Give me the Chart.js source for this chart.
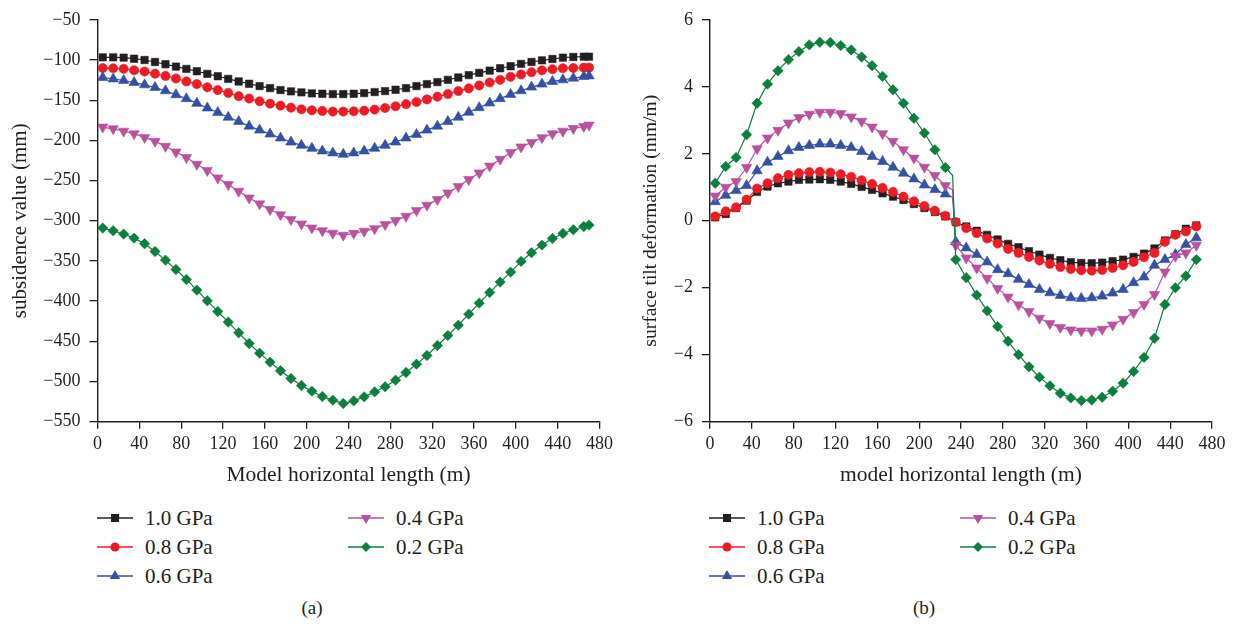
<!DOCTYPE html>
<html>
<head>
<meta charset="utf-8">
<script src="https://cdn.jsdelivr.net/npm/chart.js@4.4.1/dist/chart.umd.min.js"></script>
<style>
  body { margin: 0; background: #fff; width: 1237px; height: 628px; position: relative; overflow: hidden;
         font-family: "Liberation Serif", serif; color: #231f20; }
  canvas { position: absolute; top: 0; }
  #subsidence { left: 0; }
  #tilt { left: 618px; }
  .item { position: absolute; height: 24px; display: flex; align-items: center; white-space: nowrap; font-size: 21px; }
  .item svg { margin-right: 12px; }
  .caption { position: absolute; top: 597px; font-size: 19px; transform: translateX(-50%); }
</style>
</head>
<body>
<canvas id="subsidence" width="618" height="490"></canvas>
<canvas id="tilt" width="619" height="490"></canvas>
<div id="legendA"></div>
<div id="legendB"></div>
<div class="caption" style="left:312px">(a)</div>
<div class="caption" style="left:924px">(b)</div>
<script>
// positions along the model (m)
var xLeft = [5, 15, 25, 35, 45, 55, 65, 75, 85, 95, 105, 115, 125, 135, 145, 155, 165, 175, 185, 195, 205, 215, 225, 235,
             245, 255, 265, 275, 285, 295, 305, 315, 325, 335, 345, 355, 365, 375, 385, 395, 405, 415, 425, 435, 445, 455, 465, 470];
var xRight = [5, 15, 25, 35, 45, 55, 65, 75, 85, 95, 105, 115, 125, 135, 145, 155, 165, 175, 185, 195, 205, 215, 225, 235,
              245, 255, 265, 275, 285, 295, 305, 315, 325, 335, 345, 355, 365, 375, 385, 395, 405, 415, 425, 435, 445, 455, 465];

var labels = ['1.0 GPa', '0.8 GPa', '0.6 GPa', '0.4 GPa', '0.2 GPa'];

// (a) subsidence value (mm)
var sub10 = [-96.7, -96.7, -97.1, -98.4, -100, -102.5, -105.3, -108.2, -111.1, -114, -117.3, -120.2, -123.5, -126.7, -129.6, -132.5,
             -135, -137.4, -139.1, -140.3, -141.6, -142, -142.4, -142.4, -142, -141.2, -139.9, -138.7, -137, -135, -132.5, -130,
             -127.6, -124.7, -121.8, -118.9, -116, -113.2, -110.3, -107.8, -104.9, -102.5, -100.4, -98.8, -97.1, -96.3, -95.9, -95.9];
var sub08 = [-110, -110.3, -111, -112.8, -114.4, -117, -119.8, -123, -126.7, -130, -134, -137.4, -141, -145, -148, -151.4,
             -154.3, -156.8, -159.3, -161.3, -162.6, -163.4, -164.2, -164.2, -163.8, -163, -161.7, -159.7, -157.6, -155, -152.3, -149,
             -145.7, -142.4, -138.7, -135.4, -131.7, -128, -124.7, -121, -118, -115.2, -112.8, -111.5, -110.3, -110, -109.5, -109.5];
var sub06 = [-121.8, -123.5, -125.5, -128, -130.9, -134.2, -138.3, -143.2, -148.1, -153.9, -159.7, -165.4, -171.2, -176.5, -182.3, -187.2,
             -192.2, -197.1, -202.1, -206.2, -209.9, -213.2, -215.6, -217.3, -215.6, -213.2, -209.9, -206.2, -202.1, -197.1, -192.6, -187.2,
             -182.3, -176.5, -171.2, -165, -159.3, -153.5, -148.1, -142.8, -138.3, -133.7, -130, -126.7, -124.7, -122.6, -120.6, -119.8];
var sub04 = [-183.5, -185.6, -188.5, -191.8, -196.3, -201.2, -207.4, -214.4, -221.4, -229.8, -237.5, -246.7, -255, -263.3, -271.6, -279,
             -286.1, -292.5, -298.5, -304, -309, -312.5, -315.5, -318, -315.6, -313, -309.8, -304.8, -299.8, -294.4, -287.3, -280.7,
             -273.7, -265.4, -257.5, -248.8, -240.5, -232, -223.5, -215.2, -208.2, -202.5, -196.7, -191.8, -188.5, -185.2, -182.7, -181];
var sub02 = [-309.1, -312.4, -316.6, -321.6, -328.6, -338.2, -349, -360.6, -373, -386.3, -399.6, -412.9, -426.1, -439.4, -452.7, -464.7,
             -475.9, -486.7, -496.3, -505, -512, -518.7, -523.2, -527.4, -524.1, -519.1, -512.9, -506.6, -498.3, -488.8, -478.4, -467.6,
             -455.2, -442.7, -429.9, -416.2, -402.5, -389.2, -376.3, -363.9, -350.6, -339.8, -330.3, -322, -315.8, -311.2, -307.1, -305.4];

// (b) surface tilt deformation (mm/m)
var tilt10 = [0.1, 0.2, 0.38, 0.6, 0.86, 1.02, 1.12, 1.17, 1.22, 1.23, 1.24, 1.22, 1.17, 1.1, 1.01, 0.92, 0.82, 0.72, 0.62, 0.5, 0.38, 0.26, 0.13,
              -0.04, -0.17, -0.3, -0.42, -0.56, -0.69, -0.79, -0.91, -1.01, -1.11, -1.18, -1.24, -1.26, -1.27, -1.25, -1.21, -1.16,
              -1.08, -0.98, -0.83, -0.59, -0.4, -0.24, -0.14];
var tilt08 = [0.13, 0.28, 0.4, 0.63, 0.96, 1.12, 1.27, 1.37, 1.42, 1.45, 1.46, 1.44, 1.39, 1.31, 1.21, 1.1, 0.98, 0.86, 0.72, 0.58, 0.44, 0.3, 0.15,
              -0.04, -0.22, -0.37, -0.53, -0.68, -0.84, -0.96, -1.08, -1.19, -1.29, -1.38, -1.44, -1.48, -1.49, -1.47, -1.41, -1.33,
              -1.23, -1.09, -0.96, -0.63, -0.42, -0.32, -0.17];
var tilt06 = [0.57, 0.76, 0.9, 1.05, 1.49, 1.75, 1.92, 2.09, 2.19, 2.25, 2.29, 2.29, 2.25, 2.19, 2.07, 1.92, 1.77, 1.6, 1.42, 1.25, 1.07, 0.93, 0.8,
              -0.63, -0.81, -1.01, -1.23, -1.46, -1.58, -1.75, -1.9, -2.05, -2.15, -2.23, -2.3, -2.32, -2.3, -2.25, -2.16, -2.05,
              -1.85, -1.68, -1.33, -1.16, -1.01, -0.71, -0.51];
var tilt04 = [0.74, 1.0, 1.17, 1.59, 2.15, 2.47, 2.7, 2.92, 3.08, 3.18, 3.24, 3.24, 3.2, 3.1, 2.97, 2.8, 2.6, 2.37, 2.12, 1.87, 1.6, 1.35, 1.05,
              -0.73, -1.11, -1.41, -1.72, -2.02, -2.28, -2.51, -2.71, -2.91, -3.07, -3.19, -3.26, -3.29, -3.29, -3.24, -3.11, -2.94,
              -2.74, -2.5, -2.2, -1.53, -1.06, -0.96, -0.73];
var tilt02 = [1.12, 1.62, 1.89, 2.57, 3.51, 4.08, 4.48, 4.81, 5.05, 5.25, 5.33, 5.32, 5.23, 5.1, 4.89, 4.63, 4.31, 3.91, 3.51, 3.06, 2.62, 2.12, 1.59,
              -1.16, -1.7, -2.22, -2.69, -3.16, -3.6, -4.0, -4.36, -4.67, -4.93, -5.15, -5.29, -5.37, -5.35, -5.27, -5.09, -4.85,
              -4.5, -4.08, -3.51, -2.5, -2.0, -1.65, -1.16];

// the softer strata jump across the goaf edge; unmarked line vertex just before the drop
var stepX = 232;
var stepTilt = [null, null, 0.7, 0.92, 1.35];

var colors = ['#231f20', '#ed1c24', '#3451a3', '#b8519e', '#0c7f3e'];
var styles = ['rect', 'circle', 'triangle', 'triangle', 'rectRot'];
var rotations = [0, 0, 0, 180, 0];
var radii = [5.2, 4.6, 6, 6, 5.2];

var FONT = "'Liberation Serif', serif";
var INK = '#231f20';

function points(xs, ys, extra) {
    var out = xs.map(function (x, i) { return { x: x, y: ys[i] }; });
    if (extra != null) {
        out.push({ x: stepX, y: extra, bare: true });
        out.sort(function (a, b) { return a.x - b.x; });
    }
    return out;
}

function datasets(xs, series, extras) {
    return series.map(function (ys, i) {
        return {
            label: labels[i],
            data: points(xs, ys, extras ? extras[i] : null),
            borderColor: colors[i],
            backgroundColor: colors[i],
            borderWidth: 1.2,
            pointStyle: styles[i],
            pointRotation: rotations[i],
            pointRadius: function (c) { return c.raw && c.raw.bare ? 0 : radii[i]; },
            pointBorderWidth: 0.6,
            pointBorderColor: colors[i],
            pointBackgroundColor: colors[i],
            tension: 0,
            order: 4 - i
        };
    });
}

function minus(v) { return v < 0 ? '\u2212' + Math.abs(v) : String(v); }

function options(cfg) {
    return {
        responsive: false,
        animation: false,
        layout: { padding: { top: 19, right: cfg.padRight, bottom: 0, left: 0 } },
        plugins: { legend: { display: false }, tooltip: { enabled: false } },
        scales: {
            x: {
                type: 'linear', min: 0, max: 480,
                ticks: { stepSize: 40, color: INK, font: { family: FONT, size: 18 }, padding: 5, maxRotation: 0 },
                grid: { drawOnChartArea: false, tickLength: 7, color: INK, lineWidth: 1.3 },
                border: { color: INK, width: 1.4 },
                title: { display: true, text: cfg.xTitle, color: INK, font: { family: FONT, size: 21.5 }, padding: { top: 0, bottom: 2 } },
                afterFit: function (s) { s.height = 68.3; }
            },
            y: {
                min: cfg.yMin, max: cfg.yMax,
                ticks: { stepSize: cfg.yStep, color: INK, font: { family: FONT, size: 18 }, padding: 9, callback: minus },
                grid: { drawOnChartArea: false, tickLength: 8, color: INK, lineWidth: 1.3 },
                border: { color: INK, width: 1.4 },
                title: { display: true, text: cfg.yTitle, color: INK, font: { family: FONT, size: cfg.yTitleSize }, padding: { top: cfg.titlePad } },
                afterFit: function (s) { s.width = cfg.yWidth; }
            }
        }
    };
}

new Chart(document.getElementById('subsidence'), {
    type: 'line',
    data: { datasets: datasets(xLeft, [sub10, sub08, sub06, sub04, sub02]) },
    options: options({ xTitle: 'Model horizontal length (m)', yTitle: 'subsidence value (mm)', yTitleSize: 21,
                       yMin: -550, yMax: -50, yStep: 50, yWidth: 97.5, padRight: 18, titlePad: 8 })
});

new Chart(document.getElementById('tilt'), {
    type: 'line',
    data: { datasets: datasets(xRight, [tilt10, tilt08, tilt06, tilt04, tilt02], stepTilt) },
    options: options({ xTitle: 'model horizontal length (m)', yTitle: 'surface tilt deformation (mm/m)', yTitleSize: 19.5,
                       yMin: -6, yMax: 6, yStep: 2, yWidth: 92, padRight: 25, titlePad: 21 })
});

// legend: two columns, three rows, like the original figure
function markerSvg(i) {
    var c = colors[i], s = '';
    if (styles[i] === 'rect') s = '<rect x="14" y="3" width="8" height="8" fill="' + c + '"/>';
    else if (styles[i] === 'circle') s = '<circle cx="18" cy="7" r="4.6" fill="' + c + '"/>';
    else if (styles[i] === 'rectRot') s = '<polygon points="18,2 23,7 18,12 13,7" fill="' + c + '"/>';
    else if (rotations[i] === 180) s = '<polygon points="12.8,4 23.2,4 18,13" fill="' + c + '"/>';
    else s = '<polygon points="18,1 23.2,10 12.8,10" fill="' + c + '"/>';
    return '<svg width="36" height="14"><line x1="0" y1="7" x2="36" y2="7" stroke="' + c + '" stroke-width="1.4"/>' + s + '</svg>';
}

function legend(el, x1, x2) {
    var rows = [518, 547, 576];
    var html = '';
    labels.forEach(function (lab, i) {
        var left = i < 3 ? x1 : x2;
        var top = rows[i < 3 ? i : i - 3] - 12;
        html += '<div class="item" style="left:' + left + 'px;top:' + top + 'px">' + markerSvg(i) + '<span>' + lab + '</span></div>';
    });
    el.innerHTML = html;
}
legend(document.getElementById('legendA'), 97, 348);
legend(document.getElementById('legendB'), 709, 960);
</script>
</body>
</html>
